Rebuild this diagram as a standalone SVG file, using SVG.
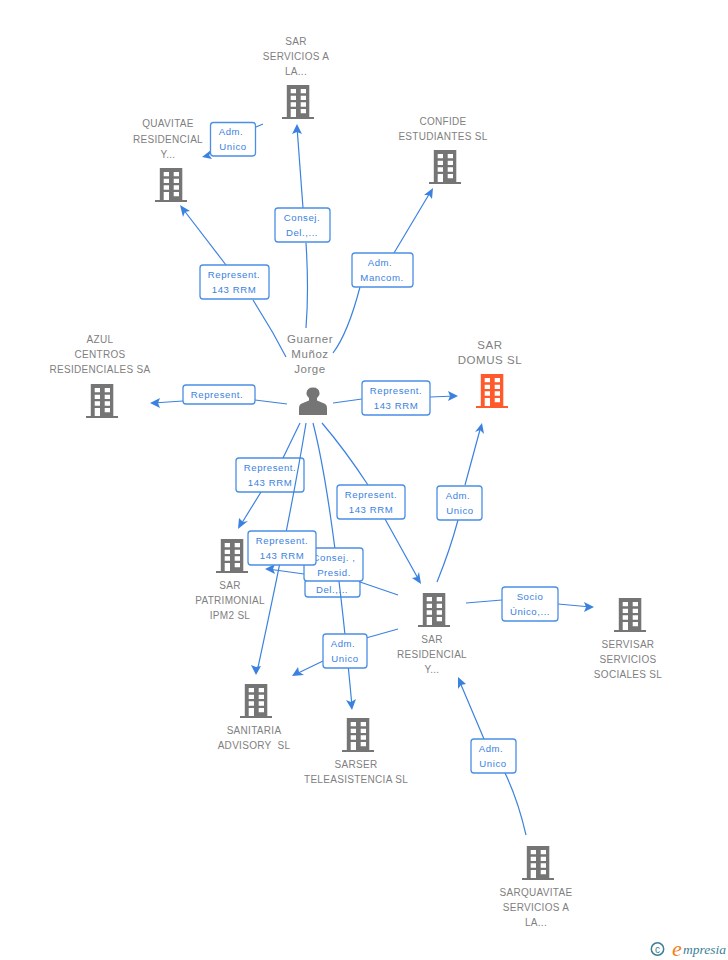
<svg xmlns="http://www.w3.org/2000/svg" width="728" height="960" viewBox="0 0 728 960">
<style>
text{font-family:"Liberation Sans",Arial,sans-serif;font-size:10px;text-anchor:middle;letter-spacing:.3px;white-space:pre}
.n text{fill:#808080}
.c{fill:none;stroke:#3b82e0;stroke-width:1.2}
.h{fill:#3b82e0;stroke:none}
.l rect{fill:#fff;stroke:#4a8ee6;stroke-width:1.3}
.l text{fill:#3b82e0;font-size:9.600px;letter-spacing:.55px}
.b{fill:#757575}
.o{fill:#ff5a2c}
.n text.big{font-size:11.500px;letter-spacing:.55px}
</style>
<defs>
<g id="bld">
<path fill-rule="evenodd" d="M-11.200 0H11.300V32H16V34H-16V32H-11.200ZM-7.300 4V8.300H-2V4ZM2.700 4V8.300H8V4ZM-7.300 10.700V15H-2V10.700ZM2.700 10.700V15H8V10.700ZM-7.300 17.300V21.700H-2V17.300ZM2.700 17.300V21.700H8V17.300ZM-7.300 24V32H-2V24ZM2.700 24V28.300H8V24Z"/>
</g>
</defs>
<g id="edge-labels-under" class="l">
<g><rect x="236" y="458" width="68" height="34" rx="3"/><text x="270" y="471">Represent.</text><text x="270" y="486">143 RRM</text></g>
<g><rect x="305" y="580" width="55" height="17" rx="3"/><text x="332" y="593">Del.,...</text></g>
</g>
<g id="connectors">
<path class="c" d="M263 124L256 127M211 153L205 156"/><path class="h" d="M202 157L211 150L209 155L212 159Z"/>
<path class="c" d="M303 208L297 127"/><path class="h" d="M297 124L302 134L297 132L292 134Z"/>
<path class="c" d="M306 243Q309 290 306 328"/>
<path class="c" d="M226 265L183 209"/><path class="h" d="M180 205L190 211L185 212L183 217Z"/>
<path class="c" d="M253 300L273 333L286 357"/>
<path class="c" d="M394 253L431 191"/><path class="h" d="M433 188L432 199L429 195L424 195Z"/>
<path class="c" d="M333 353Q348 333 360 287"/>
<path class="c" d="M287 404L255 400M183 401L153 403"/><path class="h" d="M150 403L160 398L158 403L160 408Z"/>
<path class="c" d="M333 403L362 399M430 397L456 396"/><path class="h" d="M458 396L448 401L450 396L448 391Z"/>
<path class="c" d="M300 423L283 458M261 492L240 526"/><path class="h" d="M238 529L239 518L243 522L248 521Z"/>
<path class="c" d="M306 423Q292 510 257 672"/><path class="h" d="M256 675L251 665L256 667L261 666Z"/>
<path class="c" d="M313 423Q333 500 352 706"/><path class="h" d="M352 710L346 700L351 702L356 699Z"/>
<path class="c" d="M322 423Q345 450 368 485M385 519L420 582"/><path class="h" d="M421 584L412 578L417 577L419 572Z"/>
<path class="c" d="M437 582Q450 550 458 520M465 485L481 426"/><path class="h" d="M482 423L484 434L480 430L475 432Z"/>
<path class="c" d="M398 595L360 582M304 574L268 569"/><path class="h" d="M265 569L275 564L273 569L275 574Z"/>
<path class="c" d="M398 629L366 638M323 661L294 675"/><path class="h" d="M292 676L298 667L299 672L304 675Z"/>
<path class="c" d="M466 603L502 600M558 604L591 607"/><path class="h" d="M594 607L584 612L586 607L584 602Z"/>
<path class="c" d="M526 835Q518 800 505 773M484 739L459 680"/><path class="h" d="M458 677L466 684L461 685L458 689Z"/>
</g>
<g id="edge-labels" class="l">
<g><rect x="210.500" y="122.500" width="45" height="33.500" rx="3"/><text x="231" y="135">Adm.</text><text x="233" y="150">Unico</text></g>
<g><rect x="275" y="208" width="55" height="34" rx="3"/><text x="302" y="221">Consej.</text><text x="302" y="236">Del.,...</text></g>
<g><rect x="200" y="265" width="69" height="34" rx="3"/><text x="234" y="278">Represent.</text><text x="234" y="293">143 RRM</text></g>
<g><rect x="352" y="253" width="61" height="34" rx="3"/><text x="380" y="266">Adm.</text><text x="382" y="281">Mancom.</text></g>
<g><rect x="183" y="385" width="72" height="19" rx="3"/><text x="217" y="398">Represent.</text></g>
<g><rect x="362" y="381" width="68" height="34" rx="3"/><text x="396" y="394">Represent.</text><text x="396" y="409">143 RRM</text></g>
<g><rect x="337" y="485" width="68" height="34" rx="3"/><text x="371" y="498">Represent.</text><text x="371" y="513">143 RRM</text></g>
<g><rect x="437" y="486" width="45" height="34" rx="3"/><text x="458" y="499">Adm.</text><text x="460" y="514">Unico</text></g>
<g><rect x="304" y="548" width="59" height="33" rx="3"/><text x="334" y="561">Consej. ,</text><text x="334" y="576">Presid.</text></g>
<g><rect x="248" y="531" width="68" height="34" rx="3"/><text x="282" y="544">Represent.</text><text x="282" y="559">143 RRM</text></g>
<g><rect x="323" y="634" width="44" height="34" rx="3"/><text x="343" y="647">Adm.</text><text x="345" y="662">Unico</text></g>
<g><rect x="502" y="587" width="56" height="34" rx="3"/><text x="530" y="600">Socio</text><text x="530" y="615">Único,...</text></g>
<g><rect x="471" y="739" width="45" height="34" rx="3"/><text x="491" y="752">Adm.</text><text x="493" y="767">Unico</text></g>
</g>
<g id="n1" class="n"><text x="296" y="45">SAR</text><text x="296" y="60">SERVICIOS A</text><text x="296" y="75">LA...</text><use href="#bld" x="298" y="85" class="b"/></g>
<g id="n2" class="n"><text x="168" y="127">QUAVITAE</text><text x="168" y="143">RESIDENCIAL</text><text x="168" y="158">Y...</text><use href="#bld" x="171" y="168" class="b"/></g>
<g id="n3" class="n"><text x="443" y="125">CONFIDE</text><text x="443" y="140">ESTUDIANTES SL</text><use href="#bld" x="445" y="150" class="b"/></g>
<g id="n4" class="n"><text x="100" y="343">AZUL</text><text x="100" y="358">CENTROS</text><text x="100" y="373">RESIDENCIALES SA</text><use href="#bld" x="102" y="384" class="b"/></g>
<g id="n5" class="n"><text class="big" x="310" y="343">Guarner</text><text class="big" x="310" y="358">Muñoz</text><text class="big" x="310" y="373">Jorge</text><path class="b" d="M299 415V408Q299 404 303 403L309 400.500V398Q306 395 306.500 393Q307 387.500 313 387.500Q319 387.500 319.500 393Q320 395 317 398V400.500L323 403Q327 404 327 408V415Z"/></g>
<g id="n6" class="n"><text class="big" x="490" y="349">SAR</text><text class="big" x="490" y="364">DOMUS SL</text><use href="#bld" x="492" y="374" class="o"/></g>
<g id="n7" class="n"><text x="230" y="589">SAR</text><text x="230" y="604">PATRIMONIAL</text><text x="230" y="619">IPM2 SL</text><use href="#bld" x="232" y="539" class="b"/></g>
<g id="n8" class="n"><text x="432" y="643">SAR</text><text x="432" y="658">RESIDENCIAL</text><text x="432" y="673">Y...</text><use href="#bld" x="434" y="593" class="b"/></g>
<g id="n9" class="n"><text x="628" y="648">SERVISAR</text><text x="628" y="663">SERVICIOS</text><text x="628" y="678">SOCIALES SL</text><use href="#bld" x="630" y="598" class="b"/></g>
<g id="n10" class="n"><text x="254" y="734">SANITARIA</text><text x="254" y="749">ADVISORY  SL</text><use href="#bld" x="256" y="684" class="b"/></g>
<g id="n11" class="n"><text x="356" y="768">SARSER</text><text x="356" y="783">TELEASISTENCIA SL</text><use href="#bld" x="358" y="718" class="b"/></g>
<g id="n12" class="n"><text x="536" y="896">SARQUAVITAE</text><text x="536" y="911">SERVICIOS A</text><text x="536" y="926">LA...</text><use href="#bld" x="538" y="846" class="b"/></g>
<g id="logo"><circle cx="657.500" cy="949" r="6.200" fill="none" stroke="#3d7f96" stroke-width="1.500"/><text x="657.500" y="952.500" style="font-size:10px;fill:#3d7f96;letter-spacing:0">c</text><text x="677" y="956" style="font-family:'Liberation Serif',serif;font-style:italic;font-size:22px;fill:#f08020;letter-spacing:0">e</text><text x="704.500" y="954" style="font-family:'Liberation Serif',serif;font-style:italic;font-size:13.500px;fill:#3d7f96;letter-spacing:0">mpresia</text></g>
</svg>
